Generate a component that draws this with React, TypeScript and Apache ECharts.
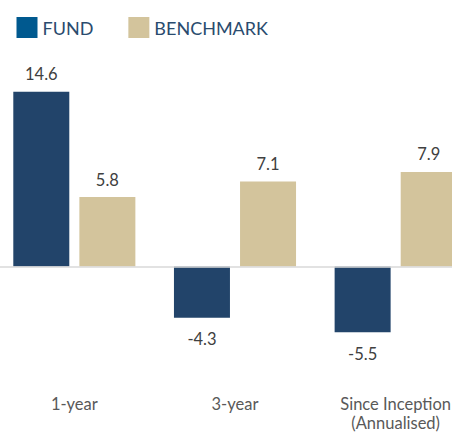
import React, { useEffect, useRef } from "react";
import * as echarts from "echarts";

const categories = ["1-year", "3-year", "Since Inception\n(Annualised)"];
const fundValues = [14.6, -4.3, -5.5];
const benchmarkValues = [5.8, 7.1, 7.9];
const seriesNames = ["FUND", "BENCHMARK"];

export default function App() {
  const ref = useRef<HTMLDivElement>(null);
  useEffect(() => {
    if (!ref.current) return;
    const chart = echarts.init(ref.current, null, { renderer: "svg" });
    const font = "Lato, 'Open Sans', sans-serif";
    const labelFor = (v: number) =>
      v >= 0 ? { position: "top", distance: 9 } : { position: "bottom", distance: 13 };
    chart.setOption({
      animation: false,
      legend: {
        left: 17.5,
        top: 12,
        itemWidth: 21,
        itemHeight: 21,
        itemGap: 35,
        icon: "rect",
        textStyle: {
          fontFamily: font,
          fontSize: 18,
          color: "#2A4B6E",
        },
        data: [
          { name: seriesNames[0], itemStyle: { color: "#00598F" } },
          { name: seriesNames[1], itemStyle: { color: "#D3C49C" } },
        ],
      },
      grid: { left: 0, right: 0, top: 75.1, bottom: 41, containLabel: false },
      xAxis: {
        type: "category",
        data: categories,
        axisLine: { show: false, onZero: false },
        axisTick: { show: false },
        axisLabel: {
          fontFamily: font,
          fontSize: 16.5,
          color: "#595959",
          margin: 8,
          lineHeight: 19,
          interval: 0,
        },
      },
      yAxis: {
        type: "value",
        min: -10,
        max: 16,
        show: false,
        splitLine: { show: false },
      },
      series: [
        {
          name: seriesNames[0],
          type: "bar",
          data: fundValues.map((v) => ({ value: v, label: labelFor(v) })),
          barWidth: 56,
          barGap: "18%",
          itemStyle: { color: "#22446A" },
          label: {
            show: true,
            fontFamily: font,
            fontSize: 16.5,
            color: "#404040",
          },
          markLine: {
            silent: true,
            symbol: "none",
            label: { show: false },
            lineStyle: { color: "#D9D9D9", width: 1.5, type: "solid" },
            data: [{ yAxis: 0 }],
          },
        },
        {
          name: seriesNames[1],
          type: "bar",
          data: benchmarkValues.map((v) => ({ value: v, label: labelFor(v) })),
          barWidth: 56,
          barGap: "18%",
          itemStyle: { color: "#D3C49C" },
          label: {
            show: true,
            fontFamily: font,
            fontSize: 16.5,
            color: "#404040",
          },
        },
      ],
    });
    return () => chart.dispose();
  }, []);
  return (
    <div
      style={{ position: "fixed", left: 0, top: 0, width: 452, height: 432, overflow: "hidden", background: "#fff" }}
    >
      <div
        ref={ref}
        style={{ position: "absolute", left: -6.5, top: 0, width: 481.5, height: 432 }}
      />
    </div>
  );
}
